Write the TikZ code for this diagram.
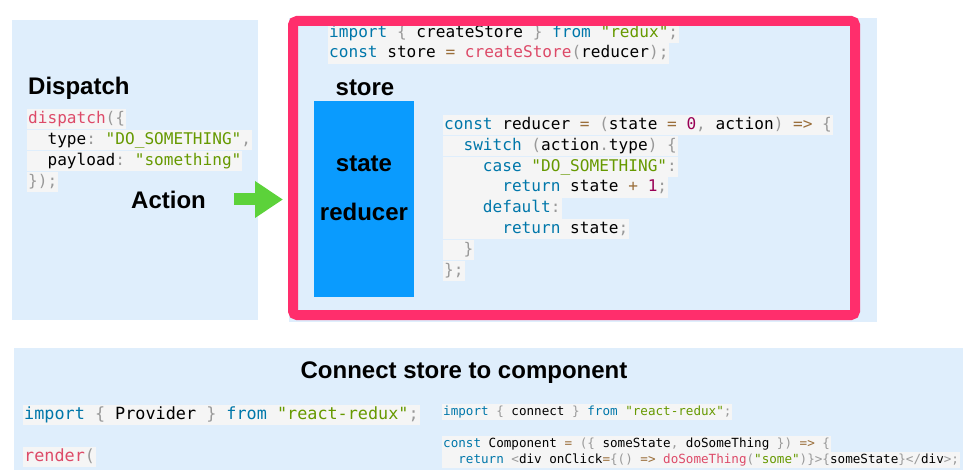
\documentclass[tikz,border=0pt]{standalone}
\usepackage{fontspec}
\setmainfont{Liberation Sans}
\setmonofont{DejaVu Sans Mono}
\usepackage{xcolor}
\usepackage{tikz}
\usetikzlibrary{arrows.meta, positioning}
\definecolor{panel}{HTML}{DFEEFC}
\definecolor{codebg}{HTML}{F5F5F5}
\definecolor{frame}{HTML}{FF2E6C}
\definecolor{storeblue}{HTML}{0A9BFE}
\definecolor{go}{HTML}{5CD23A}
\definecolor{kwc}{HTML}{0077AA}
\definecolor{fnc}{HTML}{DD4A68}
\definecolor{strc}{HTML}{669900}
\definecolor{punc}{HTML}{999999}
\definecolor{opc}{HTML}{9A6E3A}
\definecolor{numc}{HTML}{990055}
\newcommand{\ckw}[1]{\textcolor{kwc}{#1}}
\newcommand{\cfn}[1]{\textcolor{fnc}{#1}}
\newcommand{\cstr}[1]{\textcolor{strc}{#1}}
\newcommand{\cpun}[1]{\textcolor{punc}{#1}}
\newcommand{\cop}[1]{\textcolor{opc}{#1}}
\newcommand{\cnum}[1]{\textcolor{numc}{#1}}
\tikzset{
  heading/.style={font=\fontsize{24}{24}\selectfont\bfseries, inner sep=0pt,
    text height=17.2pt, text depth=0pt},
  codeline/.style={font=\ttfamily\fontsize{16.1}{20.8}\selectfont, fill=codebg,
    anchor=west, inner xsep=1pt, inner ysep=0pt, text height=14.5pt, text depth=6.3pt},
  codebig/.style={codeline, font=\ttfamily\fontsize{16.8}{21}\selectfont},
  codesmall/.style={codeline, font=\ttfamily\fontsize{12.6}{16}\selectfont,
    text height=11.1pt, text depth=4.9pt}
}

\begin{document}
\begin{tikzpicture}[x=1pt, y=-1pt]
\useasboundingbox (0,0) rectangle (963,470);
% panels
\fill[panel] (12,20) rectangle (258,320);
\fill[panel] (289,18) rectangle (877,322);
\fill[panel] (14,348) rectangle (963,470);

% dispatch side
\node[heading, anchor=west] (dispatch) at (28,86) {Dispatch};
\node[codeline] (d1) at (27,119) {\cfn{dispatch}\cpun{(\{}};
\node[codeline] (d2) at (27,140) {~~type\cpun{:} \cstr{"DO\_SOMETHING"}\cpun{,}};
\node[codeline] (d3) at (27,161) {~~payload\cpun{:} \cstr{"something"}};
\node[codeline] (d4) at (27,182) {\cpun{\});}};
\node[heading, anchor=west] (action) at (131,200) {Action};

% store side
\node[codeline] (s1) at (328,33) {\ckw{import} \cpun{\{} createStore \cpun{\}} \ckw{from} \cstr{"redux"}\cpun{;}};
\node[codeline] (s2) at (328,53.5) {\ckw{const} store \cop{=} \cfn{createStore}\cpun{(}reducer\cpun{);}};
\node[heading] (storelbl) at (365,87) {store};
\node[fill=storeblue, minimum width=100pt, minimum height=196pt, inner sep=0pt]
      (storebox) at (364,199) {};
\node[heading] (statelbl) at (364,163) {state};
\node[heading] (reducerlbl) at (364,212) {reducer};

\node[codeline] (r1) at (443,125) {\ckw{const} reducer \cop{=} \cpun{(}state \cop{=} \cnum{0}\cpun{,} action\cpun{)} \cop{=>} \cpun{\{}};
\node[codeline] (r2) at (443,146) {~~\ckw{switch} \cpun{(}action\cpun{.}type\cpun{)} \cpun{\{}};
\node[codeline] (r3) at (443,167) {~~~~\ckw{case} \cstr{"DO\_SOMETHING"}\cpun{:}};
\node[codeline] (r4) at (443,187.5) {~~~~~~\ckw{return} state \cop{+} \cnum{1}\cpun{;}};
\node[codeline] (r5) at (443,208.5) {~~~~\ckw{default}\cpun{:}};
\node[codeline] (r6) at (443,229) {~~~~~~\ckw{return} state\cpun{;}};
\node[codeline] (r7) at (443,250) {~~\cpun{\}}};
\node[codeline] (r8) at (443,271) {\cpun{\};}};

\node[draw=frame, line width=10pt, rounded corners=4pt, inner sep=0pt,
      minimum width=562pt, minimum height=294pt] (storeframe) at (574,168) {};

\coordinate (acttail) at (234,199.5);
\draw[go, line width=12pt, shorten >=5pt, -{Triangle[length=28pt, width=35pt]}]
    (acttail) -- (acttail -| storeframe.west);

% connect
\node[heading] (connect) at (464,370) {Connect store to component};
\node[codebig] (p1) at (23,415) {\ckw{import} \cpun{\{} Provider \cpun{\}} \ckw{from} \cstr{"react-redux"}\cpun{;}};
\node[codebig] (p2) at (23,457) {\cfn{render}\cpun{(}};
\node[codesmall] (c1) at (442,412) {\ckw{import} \cpun{\{} connect \cpun{\}} \ckw{from} \cstr{"react-redux"}\cpun{;}};
\node[codesmall] (c2) at (442,444) {\ckw{const} Component \cop{=} \cpun{(\{} someState\cpun{,} doSomeThing \cpun{\})} \cop{=>} \cpun{\{}};
\node[codesmall] (c3) at (442,460) {~~\ckw{return} \cpun{<}div onClick\cop{=}\cpun{\{()} \cop{=>} \cfn{doSomeThing}\cpun{(}\cstr{"some"}\cpun{)\}>\{}someState\cpun{\}</}div\cpun{>;}};
\end{tikzpicture}
\end{document}
